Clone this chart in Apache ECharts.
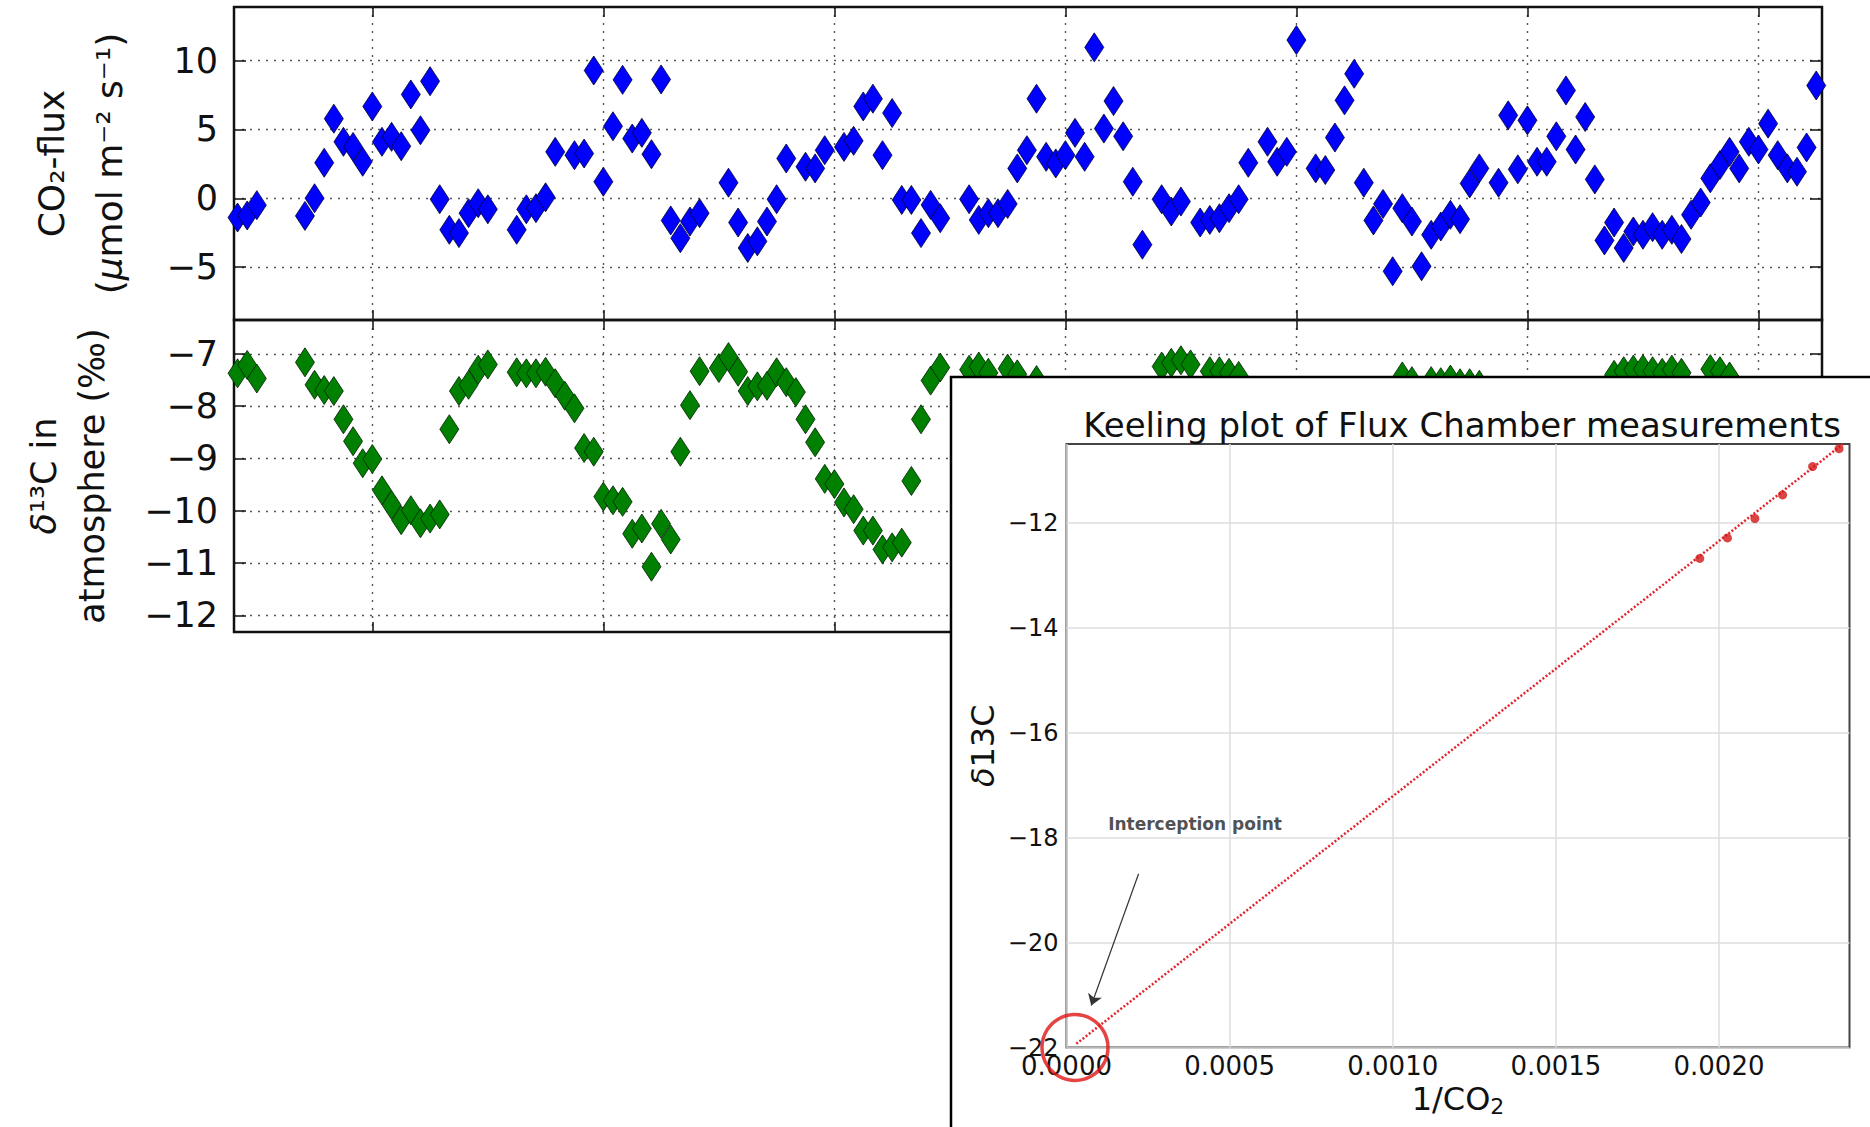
<!DOCTYPE html>
<html>
<head>
<meta charset="utf-8">
<script src="https://cdn.jsdelivr.net/npm/echarts@6/dist/echarts.min.js"></script>
<style>
html,body{margin:0;padding:0;background:#fff;}
#chart{width:1870px;height:1127px;}
</style>
</head>
<body>
<div id="chart"></div>
<script>
// ---------- data ----------
// hours since the first day boundary (grid lines every 24 h)
const dayTicks = [0, 24, 48, 72, 96, 120, 144];

const fluxHours = [-14,-13,-12,-7,-6,-5,-4,-3,-2,-1,0,1,2,3,4,5,6,7,8,9,10,11,12,
  15,16,17,18,19,21,22,23,24,25,26,27,28,29,30,31,32,33,34,37,38,39,40,41,42,43,
  45,46,47,48,49,50,51,52,53,54,55,56,57,58,59,62,63,64,65,66,67,68,69,70,71,72,
  73,74,75,76,77,78,79,80,82,83,84,86,87,88,89,90,91,93,94,95,96,98,99,100,101,
  102,103,104,105,106,107,108,109,110,111,112,113,114,115,117,118,119,120,121,122,
  123,124,125,126,127,128,129,130,131,132,133,134,135,136,137,138,139,140,141,142,
  143,144,145,146,147,148,149,150];
const fluxValues = [-1.4,-1.25,-0.5,-1.28,0.0,2.58,5.78,4.1,3.73,2.65,6.67,4.1,4.46,3.78,7.54,4.94,8.5,-0.07,-2.29,-2.53,-1.08,-0.36,-0.8,
  -2.29,-0.8,-0.72,0.07,3.37,3.13,3.25,9.28,1.2,5.23,8.6,4.34,4.75,3.2,8.63,-1.61,-2.9,-1.69,-1.08,1.13,-1.76,-3.61,-3.13,-1.69,-0.07,2.89,
  2.29,2.17,3.49,13.9,3.73,4.17,6.67,7.23,3.13,6.19,-0.12,-0.12,-2.53,-0.48,-1.45,-0.07,-1.57,-1.08,-1.08,-0.41,2.17,3.49,7.23,3.01,2.53,3.13,
  4.75,3.01,10.96,5.06,7.06,4.5,1.2,-3.37,-0.07,-0.96,-0.24,-1.76,-1.57,-1.45,-0.72,-0.07,2.58,4.1,2.65,3.37,11.49,2.17,2.05,4.41,7.11,
  9.04,1.13,-1.61,-0.41,-5.3,-0.72,-1.69,-4.94,-2.65,-2.05,-1.2,-1.52,1.08,2.17,1.13,6.02,2.1,5.66,2.65,2.65,
  4.5,7.83,3.54,5.9,1.37,-3.06,-1.76,-3.61,-2.41,-2.65,-2.1,-2.65,-2.29,-2.96,-1.2,-0.31,1.45,2.41,3.37,2.17,
  4.1,3.54,5.42,3.13,2.17,1.93,3.69,8.19];
const fluxTicks = [-5, 0, 5, 10];

const d13cHours = [-14,-13,-12,-7,-6,-5,-4,-3,-2,-1,0,1,2,3,4,5,6,7,8,9,10,11,12,
  15,16,17,18,19,20,21,22,23,24,25,26,27,28,29,30,31,32,33,34,36,37,38,39,40,41,42,43,44,
  45,46,47,48,49,50,51,52,53,54,55,56,57,58,59,62,63,64,66,67,69,
  82,83,84,85,87,88,89,90,107,108,110,111,112,113,114,115,
  129,130,131,132,133,134,135,136,139,140,141];
const d13cValues = [-7.37,-7.21,-7.47,-7.16,-7.59,-7.69,-7.71,-8.25,-8.67,-9.09,-9.01,-9.61,-9.89,-10.18,-9.99,-10.24,-10.15,-10.07,-8.44,-7.71,-7.59,-7.3,-7.2,
  -7.35,-7.37,-7.37,-7.34,-7.56,-7.8,-8.04,-8.8,-8.87,-9.73,-9.8,-9.83,-10.44,-10.34,-11.07,-10.25,-10.55,-8.87,-7.98,-7.33,-7.27,-7.06,-7.34,-7.71,-7.62,-7.61,-7.35,-7.54,-7.73,
  -8.25,-8.69,-9.39,-9.49,-9.84,-9.97,-10.38,-10.38,-10.74,-10.7,-10.61,-9.43,-8.25,-7.51,-7.26,-7.3,-7.24,-7.36,-7.28,-7.39,-7.5,
  -7.24,-7.17,-7.12,-7.2,-7.33,-7.33,-7.36,-7.42,-7.43,-7.52,-7.52,-7.54,-7.49,-7.56,-7.56,-7.59,
  -7.4,-7.33,-7.3,-7.29,-7.33,-7.36,-7.3,-7.36,-7.29,-7.33,-7.43];
const d13cTicks = [-12, -11, -10, -9, -8, -7];

// Keeling plot (inset)
const keelingX = [0.001941, 0.002026, 0.00211, 0.002195, 0.002287, 0.002368];
const keelingY = [-12.68, -12.29, -11.92, -11.47, -10.93, -10.59];
const fitX = [0.00003, 0.00238];
const fitY = [-21.93, -10.5];
const keelingXTicks = [0, 0.0005, 0.001, 0.0015, 0.002];
const keelingYTicks = [-22, -20, -18, -16, -14, -12];
const interceptPoint = [0.000026, -22.0];
const arrowFrom = [0.000221, -18.69];
const arrowTo = [0.0000758, -21.2];
const noteText = 'Interception point';
const notePos = [0.000394, -17.75];

// ---------- chart ----------
const FONT = 'DejaVu Sans';
const minus = v => (v < 0 ? '\u2212' : '') + Math.abs(v);
const dotted = {color: '#555', type: [2, 6], width: 1.4};
const tickStyle = {color: '#111', width: 1.5};

function hourAxis(gridIndex, position, grid) {
  return {
    type: 'value', gridIndex, position, min: -14.37, max: 150.6,
    axisLine: {show: false, onZero: false},
    axisTick: {show: true, inside: true, length: 10, customValues: dayTicks, lineStyle: tickStyle},
    axisLabel: {show: false, customValues: dayTicks},
    splitLine: {show: grid, lineStyle: dotted}
  };
}
function valAxis(gridIndex, position, min, max, ticks, labels, extra) {
  return Object.assign({
    type: 'value', gridIndex, position, min, max,
    axisLine: {show: false, onZero: false},
    axisTick: {show: true, inside: true, length: 12, customValues: ticks, lineStyle: tickStyle},
    axisLabel: {show: labels, customValues: ticks, fontSize: 35, color: '#111', fontFamily: FONT, margin: 16, formatter: minus},
    splitLine: {show: labels, lineStyle: dotted}
  }, extra || {});
}

const fluxData = fluxHours.map((h, i) => [h, fluxValues[i]]);
const d13cData = d13cHours.map((h, i) => [h, d13cValues[i]]);
const keelingData = keelingX.map((x, i) => [x, keelingY[i]]);
const fitData = fitX.map((x, i) => [x, fitY[i]]);

const option = {
  animation: false,
  backgroundColor: '#fff',
  textStyle: {fontFamily: FONT},
  title: {
    text: 'Keeling plot of Flux Chamber measurements',
    left: 1457, top: 403, textAlign: 'center', z: 105,
    textStyle: {fontSize: 34, fontWeight: 'normal', color: '#111', fontFamily: FONT}
  },
  graphic: {elements: [
    {type: 'rect', z: 100, shape: {x: 951, y: 377, width: 1000, height: 800},
     style: {fill: '#fff', stroke: '#000', lineWidth: 2.5}}
  ]},
  grid: [
    {left: 234, top: 7, width: 1588, height: 313, show: true, borderColor: '#111', borderWidth: 2.5},
    {left: 234, top: 320, width: 1588, height: 312, show: true, borderColor: '#111', borderWidth: 2.5},
    {left: 1066.5, top: 444, width: 783, height: 603.5, show: true, borderColor: '#444', borderWidth: 2,
     backgroundColor: '#fff', z: 101}
  ],
  xAxis: [
    hourAxis(0, 'bottom', true),
    hourAxis(0, 'top', false),
    hourAxis(1, 'bottom', true),
    hourAxis(1, 'top', false),
    {
      type: 'value', gridIndex: 2, min: 0, max: 0.0024, z: 102,
      axisLine: {show: false, onZero: false},
      axisTick: {show: false, customValues: keelingXTicks},
      axisLabel: {customValues: keelingXTicks, fontSize: 26, color: '#111', fontFamily: FONT, margin: 5,
                  formatter: v => v.toFixed(4)},
      splitLine: {show: true, lineStyle: {color: '#dedede', width: 1.5}},
      name: '{a|1/CO}{s|2}', nameLocation: 'middle', nameGap: 29,
      nameTextStyle: {rich: {
        a: {fontSize: 32, color: '#111', fontFamily: FONT},
        s: {fontSize: 22, color: '#111', fontFamily: FONT, padding: [14, 0, 0, 0]}
      }}
    }
  ],
  yAxis: [
    valAxis(0, 'left', -8.84, 13.89, fluxTicks, true, {
      name: '{a|CO\u2082-flux}\n{a|(}{i|\u03bc}{a|mol m\u207b\u00b2 s\u207b\u00b9)}',
      nameLocation: 'middle', nameRotate: 90, nameGap: 96,
      nameTextStyle: {rich: {
        a: {fontSize: 36, color: '#111', fontFamily: FONT, lineHeight: 58},
        i: {fontSize: 36, color: '#111', fontFamily: FONT, fontStyle: 'italic', lineHeight: 58}
      }}
    }),
    valAxis(0, 'right', -8.84, 13.89, fluxTicks, false),
    valAxis(1, 'left', -12.32, -6.35, d13cTicks, true, {
      name: '{i|\u03b4}{a|\u00b9\u00b3C in}\n{a|atmosphere (\u2030)}',
      nameLocation: 'middle', nameRotate: 90, nameGap: 118,
      nameTextStyle: {rich: {
        a: {fontSize: 35, color: '#111', fontFamily: FONT, lineHeight: 48},
        i: {fontSize: 35, color: '#111', fontFamily: FONT, fontStyle: 'italic', lineHeight: 48}
      }}
    }),
    valAxis(1, 'right', -12.32, -6.35, d13cTicks, false),
    {
      type: 'value', gridIndex: 2, min: -22, max: -10.5, z: 102,
      axisLine: {show: false, onZero: false},
      axisTick: {show: false, customValues: keelingYTicks},
      axisLabel: {customValues: keelingYTicks, fontSize: 24, color: '#111', fontFamily: FONT, margin: 8, formatter: minus},
      splitLine: {show: true, lineStyle: {color: '#dedede', width: 1.5}},
      name: '{i|\u03b4}{a|13C}', nameLocation: 'middle', nameRotate: 90, nameGap: 68,
      nameTextStyle: {rich: {
        a: {fontSize: 32, color: '#111', fontFamily: FONT},
        i: {fontSize: 32, color: '#111', fontFamily: FONT, fontStyle: 'italic'}
      }}
    }
  ],
  series: [
    {
      type: 'scatter', name: 'CO2 flux', xAxisIndex: 0, yAxisIndex: 0, data: fluxData,
      symbol: 'diamond', symbolSize: [19, 29], clip: true,
      itemStyle: {color: '#0000ff', borderColor: '#000033', borderWidth: 0.8, opacity: 1}
    },
    {
      type: 'scatter', name: 'd13C', xAxisIndex: 2, yAxisIndex: 2, data: d13cData,
      symbol: 'diamond', symbolSize: [19, 29], clip: true,
      itemStyle: {color: '#008000', borderColor: '#002200', borderWidth: 0.8, opacity: 1}
    },
    {
      type: 'line', name: 'fit', xAxisIndex: 4, yAxisIndex: 4, data: fitData, z: 103,
      showSymbol: false, symbol: 'none',
      lineStyle: {color: '#e3242b', width: 2.5, type: [2, 2]},
      markLine: {
        silent: true, symbol: ['none', 'arrow'], symbolSize: 11, z: 103,
        label: {show: false},
        lineStyle: {color: '#333', width: 1.2, type: 'solid'},
        data: [[{coord: arrowFrom}, {coord: arrowTo}]]
      }
    },
    {
      type: 'scatter', name: 'keeling', xAxisIndex: 4, yAxisIndex: 4, data: keelingData, z: 104,
      symbol: 'circle', symbolSize: 9,
      itemStyle: {color: '#d21515'}
    },
    {
      type: 'scatter', name: 'intercept', xAxisIndex: 4, yAxisIndex: 4, data: [interceptPoint], z: 104,
      symbol: 'circle', symbolSize: 66, clip: false,
      itemStyle: {color: 'rgba(0,0,0,0)', borderColor: '#e01414', borderWidth: 3.5}
    },
    {
      type: 'scatter', name: 'note', xAxisIndex: 4, yAxisIndex: 4, data: [notePos], z: 104,
      symbolSize: 0,
      label: {show: true, position: 'inside', formatter: noteText, fontSize: 17, fontWeight: 600, color: '#222', fontFamily: FONT}
    }
  ]
};

const chart = echarts.init(document.getElementById('chart'), null, {renderer: 'svg'});
chart.setOption(option);
</script>
</body>
</html>
